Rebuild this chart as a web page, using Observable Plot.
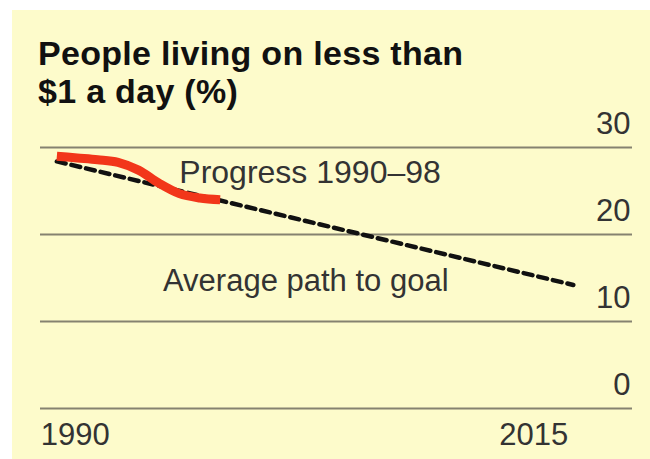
<!DOCTYPE html>
<html>
<head>
<meta charset="utf-8">
<script src="https://cdn.jsdelivr.net/npm/d3@7"></script>
<script src="https://cdn.jsdelivr.net/npm/@observablehq/plot@0.6"></script>
<style>
  html, body { margin: 0; padding: 0; background: #ffffff; }
  #page { position: relative; width: 650px; height: 459px; overflow: hidden; background: #ffffff; }
  #panel { position: absolute; left: 12px; top: 10px; width: 638px; height: 449px; background: #fdfbcb; }
  #title { position: absolute; left: 38px; top: 34px; font-family: "Liberation Sans", Arial, sans-serif;
           font-weight: bold; font-size: 34px; line-height: 38px; color: #111; letter-spacing: 0.3px; }
  #chart { position: absolute; left: 0; top: 105px; }
</style>
</head>
<body>
<div id="page">
  <div id="panel"></div>
  <div id="title">People living on less than<br>$1 a day (%)</div>
  <div id="chart"></div>
</div>
<script>
// Progress 1990–98 (red line)
const progressYears = [1990, 1991, 1992, 1993, 1994, 1995, 1996, 1997, 1998];
const progressValues = [29.0, 28.8, 28.6, 28.3, 27.4, 25.9, 24.7, 24.2, 24.0];
// Average path to goal (dashed line)
const goalYears = [1990, 2015.3];
const goalValues = [28.4, 14.2];
// Axes
const yTicks = [0, 10, 20, 30];
const xTickStart = [1990];
const xTickEnd = [2015];
// Annotations
const labelText = ["Progress 1990–98", "Average path to goal"];
const labelYears = [1996, 1995.2];
const labelValues = [27.1, 14.7];
const labelSizes = [32, 31];

const progress = progressYears.map((y, i) => ({year: y, value: progressValues[i]}));
const goal = goalYears.map((y, i) => ({year: y, value: goalValues[i]}));
const labels = labelText.map((t, i) => ({text: t, year: labelYears[i], value: labelValues[i], size: labelSizes[i]}));

const font = "'Liberation Sans', Arial, sans-serif";

const chart = Plot.plot({
  width: 650,
  height: 354,
  marginLeft: 40,
  marginRight: 18,
  marginTop: 42,
  marginBottom: 51,
  style: {background: "transparent", fontFamily: font},
  x: {domain: [1989.2, 2018.2], axis: null},
  y: {domain: [0, 30], axis: null},
  marks: [
    Plot.ruleY(yTicks, {stroke: "#858270", strokeWidth: 2}),
    Plot.text(yTicks, {y: d => d, frameAnchor: "right", text: d => String(d), textAnchor: "end",
      dx: -2, dy: -23, fontSize: 31, fill: "#333", fontFamily: font}),
    Plot.text(xTickStart, {x: d => d, frameAnchor: "bottom", text: d => String(d), textAnchor: "start",
      dx: -16, dy: 36, fontSize: 31, fill: "#333", fontFamily: font}),
    Plot.text(xTickEnd, {x: d => d, frameAnchor: "bottom", text: d => String(d), textAnchor: "end",
      dx: 1, dy: 36, fontSize: 31, fill: "#333", fontFamily: font}),
    Plot.line(goal, {x: "year", y: "value", stroke: "#111", strokeWidth: 4.5, strokeDasharray: "9,6"}),
    Plot.line(progress, {x: "year", y: "value", stroke: "#f2361a", strokeWidth: 9, curve: "monotone-x",
      strokeLinecap: "butt"}),
    Plot.text(labels, {x: "year", y: "value", text: "text", textAnchor: "start", fontSize: "size",
      fill: "#333", fontFamily: font})
  ]
});
document.getElementById("chart").appendChild(chart);
</script>
</body>
</html>
